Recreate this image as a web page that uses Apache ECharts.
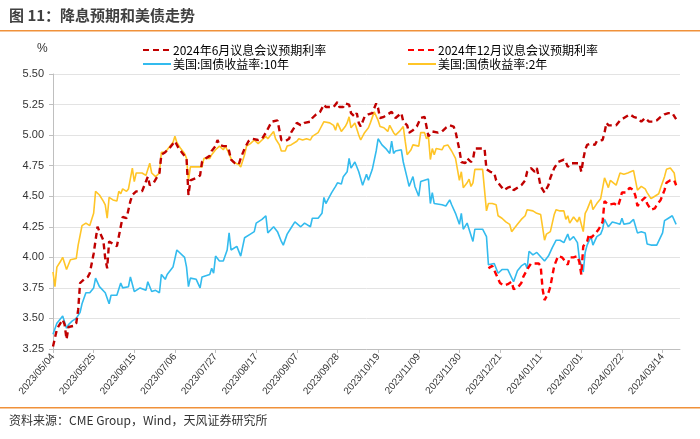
<!DOCTYPE html>
<html><head><meta charset="utf-8">
<script src="https://cdn.jsdelivr.net/npm/echarts@6/dist/echarts.min.js"></script>
<style>html,body{margin:0;padding:0;background:#fff}#c{width:700px;height:439px}</style>
</head><body><div id="c"></div>
<script>
// x = days since 2023/05/04
var tickLabels = ['2023/05/04','2023/05/25','2023/06/15','2023/07/06','2023/07/27','2023/08/17','2023/09/07','2023/09/28','2023/10/19','2023/11/09','2023/11/30','2023/12/21','2024/01/11','2024/02/01','2024/02/22','2024/03/14'];
var seriesNames = ['2024年6月议息会议预期利率','2024年12月议息会议预期利率','美国:国债收益率:10年','美国:国债收益率:2年'];

var ust10y = [[0,3.37],[2,3.46],[4,3.50],[5,3.52],[7,3.42],[8,3.45],[10,3.48],[12,3.50],[14,3.55],[15,3.62],[17,3.71],[19,3.71],[21,3.75],[22,3.83],[24,3.76],[27,3.71],[29,3.62],[30,3.69],[33,3.69],[35,3.79],[36,3.75],[39,3.76],[40,3.84],[42,3.72],[45,3.75],[48,3.73],[49,3.80],[51,3.72],[53,3.73],[55,3.71],[56,3.86],[58,3.82],[59,3.86],[62,3.92],[64,4.06],[65,4.05],[68,4.00],[69,3.92],[70,3.76],[71,3.83],[74,3.82],[76,3.75],[77,3.84],[79,3.85],[81,3.86],[82,3.91],[83,3.87],[84,4.01],[86,3.97],[88,3.97],[90,4.06],[91,4.20],[92,4.06],[95,4.09],[97,4.01],[99,4.16],[102,4.19],[104,4.21],[105,4.28],[106,4.27],[108,4.31],[110,4.34],[111,4.20],[114,4.25],[116,4.21],[118,4.13],[119,4.10],[121,4.19],[123,4.24],[125,4.29],[128,4.25],[130,4.28],[133,4.25],[134,4.32],[137,4.32],[139,4.36],[140,4.49],[141,4.44],[142,4.47],[144,4.53],[146,4.58],[147,4.61],[149,4.60],[150,4.66],[152,4.70],[153,4.81],[154,4.73],[156,4.78],[158,4.70],[160,4.59],[162,4.68],[163,4.63],[165,4.72],[167,4.87],[168,4.97],[170,4.92],[172,4.89],[174,4.85],[175,4.95],[176,4.85],[177,4.87],[180,4.88],[181,4.78],[183,4.65],[184,4.58],[186,4.66],[187,4.58],[189,4.50],[190,4.62],[191,4.63],[194,4.64],[195,4.44],[196,4.53],[197,4.44],[201,4.43],[203,4.42],[205,4.47],[206,4.43],[208,4.36],[210,4.27],[211,4.36],[212,4.23],[214,4.28],[215,4.23],[217,4.13],[218,4.23],[220,4.23],[222,4.23],[224,4.17],[225,3.94],[226,3.95],[228,3.95],[230,3.87],[232,3.90],[235,3.90],[236,3.89],[238,3.80],[240,3.89],[242,3.93],[244,3.95],[245,3.91],[246,4.05],[248,4.02],[250,4.04],[251,4.05],[254,3.97],[256,4.01],[258,4.08],[260,4.14],[262,4.14],[264,4.12],[266,4.19],[267,4.14],[269,4.17],[271,4.12],[272,3.99],[274,3.88],[275,4.04],[276,4.10],[278,4.17],[279,4.10],[281,4.17],[283,4.19],[284,4.23],[285,4.31],[287,4.25],[289,4.29],[291,4.28],[293,4.27],[294,4.32],[295,4.27],[298,4.28],[300,4.31],[302,4.20],[304,4.21],[306,4.20],[307,4.11],[309,4.10],[312,4.10],[315,4.20],[316,4.30],[318,4.32],[320,4.34],[322,4.27]];

var ust2y = [[0,3.88],[1,3.76],[2,3.92],[4,3.97],[5,4.00],[7,3.90],[8,3.89],[9,3.98],[12,3.99],[13,4.10],[15,4.26],[17,4.28],[18,4.27],[19,4.26],[21,4.36],[22,4.54],[24,4.51],[26,4.46],[27,4.43],[28,4.32],[29,4.49],[31,4.47],[33,4.46],[34,4.54],[35,4.52],[36,4.56],[38,4.54],[39,4.56],[41,4.73],[42,4.62],[43,4.69],[46,4.69],[48,4.67],[50,4.77],[51,4.69],[53,4.66],[54,4.65],[55,4.69],[56,4.86],[58,4.86],[60,4.90],[62,4.94],[63,4.99],[64,4.94],[66,4.89],[68,4.85],[69,4.81],[70,4.63],[71,4.74],[74,4.74],[77,4.74],[78,4.81],[81,4.81],[82,4.84],[84,4.88],[85,4.88],[86,4.91],[88,4.88],[89,4.91],[90,4.88],[92,4.81],[93,4.78],[94,4.77],[96,4.76],[97,4.74],[99,4.84],[100,4.91],[102,4.93],[103,4.93],[104,4.96],[106,4.93],[108,4.96],[109,4.97],[110,4.99],[111,4.97],[114,5.03],[115,4.97],[117,4.92],[118,4.87],[120,4.87],[121,4.91],[123,4.92],[124,4.92],[126,4.95],[127,4.97],[129,4.96],[131,4.97],[133,4.96],[134,4.99],[137,5.02],[138,5.05],[140,5.11],[141,5.10],[143,5.10],[145,5.08],[146,5.04],[147,5.10],[149,5.03],[151,5.07],[152,5.10],[153,5.15],[154,5.06],[156,5.10],[158,5.00],[159,4.96],[161,5.02],[162,5.04],[163,5.06],[164,5.10],[166,5.19],[167,5.19],[168,5.12],[169,5.07],[171,5.06],[173,5.03],[174,5.08],[176,5.02],[177,5.00],[179,5.03],[181,5.07],[182,4.95],[183,4.84],[185,4.88],[186,4.92],[187,4.93],[189,4.91],[190,5.02],[192,5.02],[193,4.97],[194,4.99],[195,4.80],[196,4.89],[197,4.84],[198,4.89],[201,4.88],[202,4.91],[204,4.92],[206,4.87],[208,4.81],[209,4.72],[210,4.63],[211,4.70],[212,4.57],[214,4.61],[215,4.64],[216,4.58],[217,4.61],[218,4.72],[220,4.72],[222,4.72],[223,4.73],[224,4.38],[225,4.44],[227,4.44],[229,4.43],[230,4.34],[232,4.32],[234,4.29],[236,4.27],[237,4.21],[239,4.25],[240,4.27],[242,4.31],[244,4.34],[245,4.39],[246,4.40],[248,4.38],[250,4.36],[252,4.35],[254,4.14],[255,4.19],[257,4.21],[259,4.35],[260,4.39],[262,4.38],[264,4.38],[265,4.31],[266,4.34],[267,4.28],[269,4.33],[270,4.32],[271,4.29],[272,4.33],[274,4.21],[275,4.36],[276,4.39],[278,4.47],[279,4.39],[281,4.44],[283,4.48],[284,4.47],[285,4.65],[287,4.57],[288,4.63],[291,4.59],[293,4.69],[295,4.68],[297,4.69],[298,4.70],[300,4.71],[301,4.63],[302,4.55],[304,4.58],[306,4.56],[307,4.53],[309,4.48],[311,4.50],[313,4.52],[314,4.57],[316,4.66],[317,4.72],[319,4.73],[321,4.69],[322,4.59]];

var juneRate = [[0,3.27],[2,3.41],[3,3.44],[5,3.49],[6,3.45],[7,3.33],[8,3.43],[11,3.44],[12,3.46],[13,3.57],[14,3.79],[16,3.82],[18,3.84],[19,3.87],[21,4.03],[23,4.25],[24,4.21],[26,4.14],[27,3.99],[28,3.91],[29,4.13],[31,4.11],[33,4.09],[35,4.25],[36,4.33],[38,4.32],[40,4.46],[41,4.51],[43,4.54],[46,4.54],[47,4.58],[49,4.66],[50,4.59],[52,4.61],[53,4.61],[55,4.69],[56,4.84],[58,4.86],[60,4.89],[62,4.93],[63,4.95],[65,4.89],[67,4.85],[69,4.81],[70,4.51],[71,4.63],[74,4.65],[76,4.67],[77,4.78],[79,4.81],[81,4.83],[82,4.87],[84,4.91],[85,4.96],[86,4.92],[88,4.91],[90,4.91],[91,4.87],[92,4.80],[94,4.77],[96,4.76],[97,4.81],[99,4.89],[101,4.95],[103,4.97],[104,4.97],[106,4.96],[108,4.97],[110,5.02],[111,5.03],[113,5.11],[114,5.12],[116,5.12],[117,5.04],[118,4.96],[120,4.95],[122,4.97],[123,5.02],[125,5.07],[126,5.10],[128,5.08],[130,5.10],[133,5.11],[134,5.14],[136,5.17],[138,5.19],[140,5.25],[141,5.23],[143,5.23],[145,5.23],[147,5.27],[148,5.23],[150,5.23],[151,5.26],[153,5.25],[154,5.18],[156,5.15],[157,5.18],[158,5.10],[159,5.07],[161,5.15],[163,5.17],[165,5.18],[167,5.26],[168,5.22],[169,5.14],[171,5.15],[173,5.17],[175,5.19],[177,5.14],[178,5.14],[180,5.18],[181,5.11],[183,5.08],[184,5.02],[186,5.04],[188,5.07],[190,5.14],[192,5.15],[193,5.14],[194,4.99],[196,5.03],[197,5.02],[199,5.02],[201,5.03],[203,5.06],[205,5.08],[207,5.07],[208,5.03],[210,4.88],[211,4.78],[213,4.77],[214,4.81],[216,4.78],[217,4.80],[218,4.89],[221,4.89],[223,4.89],[224,4.72],[226,4.70],[228,4.69],[229,4.63],[231,4.59],[233,4.55],[235,4.57],[237,4.58],[238,4.55],[240,4.57],[242,4.59],[244,4.63],[245,4.70],[247,4.73],[249,4.70],[250,4.73],[251,4.66],[252,4.58],[254,4.53],[256,4.59],[257,4.65],[259,4.73],[261,4.78],[264,4.80],[265,4.78],[266,4.74],[268,4.77],[270,4.77],[272,4.77],[273,4.70],[274,4.80],[275,4.88],[276,4.92],[278,4.93],[280,4.92],[281,4.95],[284,4.96],[285,5.02],[286,5.10],[287,5.08],[289,5.08],[291,5.08],[293,5.12],[295,5.14],[298,5.17],[300,5.15],[302,5.14],[304,5.11],[306,5.14],[308,5.11],[310,5.11],[312,5.12],[314,5.15],[316,5.17],[318,5.18],[320,5.18],[321,5.17],[322,5.13]];

var decRate = [[225,3.91],[227,3.93],[228,3.93],[229,3.86],[231,3.79],[233,3.77],[235,3.78],[237,3.80],[238,3.74],[240,3.75],[242,3.79],[243,3.84],[245,3.90],[247,3.95],[249,3.95],[251,3.95],[252,3.93],[253,3.74],[254,3.65],[256,3.71],[257,3.76],[259,3.93],[261,4.01],[263,4.00],[264,4.01],[266,3.94],[267,4.00],[269,4.00],[271,4.01],[272,3.96],[273,3.86],[274,4.09],[276,4.13],[277,4.19],[278,4.16],[280,4.19],[282,4.23],[284,4.29],[285,4.46],[287,4.43],[288,4.43],[290,4.44],[292,4.42],[293,4.47],[294,4.53],[296,4.53],[298,4.57],[300,4.55],[301,4.50],[302,4.42],[304,4.46],[306,4.49],[307,4.44],[309,4.39],[311,4.40],[312,4.43],[314,4.47],[316,4.55],[317,4.61],[319,4.63],[321,4.63],[322,4.59]];

var FONT = '"Liberation Sans", Arial, "Noto Sans CJK SC", sans-serif';
var CJK = '"Noto Sans CJK SC", sans-serif';
var chart = echarts.init(document.getElementById('c'), null, {renderer: 'canvas'});

function legendAt(name, left, top) {
  return {data: [name], left: left, top: top, itemWidth: 28, itemHeight: 10, itemGap: 4, padding: 0,
    selectedMode: false, itemStyle: {opacity: 0, borderWidth: 0},
    textStyle: {fontFamily: CJK, fontSize: 12, color: '#000', padding: [0,0,0,-3]}};
}

chart.setOption({
  animation: false,
  backgroundColor: '#fff',
  grid: {left: 53, right: 20, top: 74, bottom: 90, containLabel: false},
  legend: [
    legendAt(seriesNames[0], 142, 44),
    legendAt(seriesNames[1], 407, 44),
    legendAt(seriesNames[2], 142, 58),
    legendAt(seriesNames[3], 407, 58)
  ],
  graphic: [
    {type: 'text', left: 9, top: 8, style: {text: '图 11：降息预期和美债走势', font: 'bold 15px "Noto Sans CJK SC", sans-serif', fill: '#404040'}},
    {type: 'rect', shape: {x: 0, y: 30, width: 700, height: 1.5}, style: {fill: '#F0913A'}},
    {type: 'text', left: 37, top: 43, style: {text: '%', font: '12px ' + FONT, fill: '#333'}},
    {type: 'rect', shape: {x: 0, y: 407, width: 700, height: 1.5}, style: {fill: '#F0913A'}},
    {type: 'text', left: 9, top: 414, style: {text: '资料来源：CME Group，Wind，天风证券研究所', font: '12px "Noto Sans CJK SC", sans-serif', fill: '#333'}}
  ],
  xAxis: {
    type: 'value', min: 0, max: 324, interval: 21,
    axisLine: {show: true, onZero: false, lineStyle: {color: '#BFBFBF', width: 1}},
    axisTick: {show: true, length: 4, lineStyle: {color: '#BFBFBF'}},
    splitLine: {show: false},
    axisLabel: {
      rotate: 50, fontSize: 10, color: '#333', fontFamily: FONT, margin: 6, showMaxLabel: false,
      formatter: function (v) { return (v % 21 === 0 && tickLabels[v / 21]) ? tickLabels[v / 21] : ''; }
    }
  },
  yAxis: {
    type: 'value', min: 3.25, max: 5.5, interval: 0.25,
    axisLine: {show: true, lineStyle: {color: '#BFBFBF'}},
    axisTick: {show: true, length: 4, lineStyle: {color: '#BFBFBF'}},
    splitLine: {show: true, lineStyle: {color: '#E3E3E3', width: 1}},
    axisLabel: {fontSize: 11, color: '#333', fontFamily: FONT, margin: 9, formatter: function (v) { return v.toFixed(2); }}
  },
  series: [
    {name: seriesNames[2], type: 'line', data: ust10y, showSymbol: false, symbol: 'none', z: 2,
      lineStyle: {color: '#33BBEE', width: 1.6}, itemStyle: {color: '#33BBEE'}},
    {name: seriesNames[3], type: 'line', data: ust2y, showSymbol: false, symbol: 'none', z: 2,
      lineStyle: {color: '#FFC527', width: 1.6}, itemStyle: {color: '#FFC527'}},
    {name: seriesNames[0], type: 'line', data: juneRate, showSymbol: false, symbol: 'none', z: 3,
      lineStyle: {color: '#C00000', width: 2.4, type: [6, 4]}, itemStyle: {color: '#C00000'}},
    {name: seriesNames[1], type: 'line', data: decRate, showSymbol: false, symbol: 'none', z: 3,
      lineStyle: {color: '#FF0000', width: 2.4, type: [6, 4]}, itemStyle: {color: '#FF0000'}}
  ]
});
</script></body></html>
